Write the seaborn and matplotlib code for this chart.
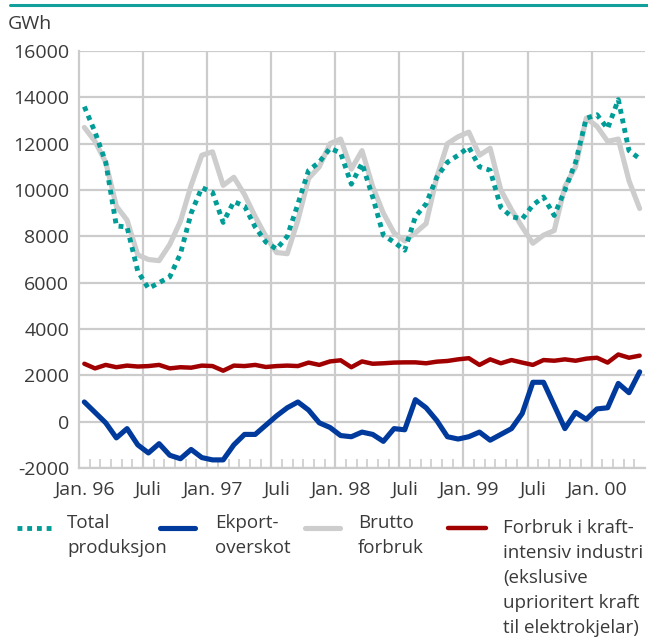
import numpy as np
import pandas as pd
import seaborn as sns
import matplotlib.pyplot as plt
from matplotlib.lines import Line2D

# Monthly values Jan. 1996 - May 2000, GWh
total_produksjon = [13600, 12500, 11200, 8450, 8400, 6500, 5750, 6000, 6250, 7250,
                    9000, 10100, 9900, 8600, 9500, 9300, 8400, 7750, 7450, 8000,
                    9400, 10850, 11200, 11800, 11600, 10250, 11150, 9700, 8050, 7750,
                    7400, 8850, 9400, 10550, 11200, 11500, 11850, 11000, 10850, 9250,
                    8850, 8750, 9350, 9700, 8900, 10000, 11200, 13100, 13250, 12650,
                    13900, 11700, 11350]
brutto_forbruk = [12700, 12100, 11200, 9300, 8700, 7200, 7000, 6950, 7650, 8650,
                  10200, 11500, 11650, 10200, 10550, 9800, 8850, 8000, 7300, 7250,
                  8700, 10500, 11000, 12000, 12200, 10900, 11700, 10150, 9000, 8150,
                  7800, 8150, 8550, 10550, 12000, 12300, 12500, 11500, 11800, 10000,
                  9150, 8400, 7700, 8050, 8250, 10150, 11000, 13100, 12750, 12100,
                  12200, 10400, 9200]
eksport_overskot = [850, 400, -50, -700, -300, -1000, -1350, -950, -1450, -1600,
                    -1200, -1550, -1650, -1650, -1000, -550, -550, -150, 250, 600,
                    850, 500, -50, -250, -600, -650, -450, -550, -850, -300,
                    -350, 950, 600, 50, -650, -750, -650, -450, -800, -550,
                    -300, 350, 1700, 1700, 700, -300, 400, 100, 550, 600,
                    1650, 1250, 2150]
kraftintensiv = [2500, 2300, 2450, 2350, 2420, 2380, 2400, 2450, 2300, 2350,
                 2330, 2420, 2400, 2200, 2420, 2400, 2450, 2360, 2400, 2420,
                 2400, 2550, 2450, 2600, 2650, 2350, 2600, 2500, 2520, 2550,
                 2560, 2560, 2520, 2590, 2620, 2690, 2740, 2450, 2690, 2520,
                 2660, 2550, 2450, 2660, 2630, 2690, 2630, 2720, 2760, 2550,
                 2900, 2760, 2850]

x_labels = ["Jan. 96", "Juli", "Jan. 97", "Juli", "Jan. 98", "Juli",
            "Jan. 99", "Juli", "Jan. 00"]
y_ticks = list(range(-2000, 16001, 2000))
legend_labels = ["Total\nproduksjon", "Ekport-\noverskot", "Brutto\nforbruk",
                 "Forbruk i kraft-\nintensiv industri\n(ekslusive\n"
                 "uprioritert kraft\ntil elektrokjelar)"]

TEAL = "#009c98"
BLUE = "#003a9c"
GREY = "#cdcdcd"
RED = "#a00000"
GRID = "#cccccc"
TEXT = "#3a3a3a"

df = pd.DataFrame({
    "total": total_produksjon,
    "brutto": brutto_forbruk,
    "eksport": eksport_overskot,
    "kraft": kraftintensiv,
})
df["month"] = np.arange(len(df))

sns.set_style("white")
plt.rcParams["font.family"] = ["Open Sans", "DejaVu Sans"]

W, H = 648, 641
fig = plt.figure(figsize=(W / 100, H / 100), dpi=100)
ax = fig.add_axes([79 / W, 1 - 468 / H, 566 / W, 417 / H])

# grid: horizontal every 2000, vertical at each half-year boundary
ax.set_ylim(-2000, 16000)
ax.set_xlim(-0.5, len(df) - 0.5)
ax.set_yticks(y_ticks)
ax.set_yticklabels([str(v) for v in y_ticks])
ax.grid(axis="y", color=GRID, lw=1.6)
for b in np.arange(5.5, len(df) - 1, 6):
    ax.axvline(b, color=GRID, lw=1.6, zorder=0.5)
ax.set_axisbelow(True)

# series
sns.lineplot(data=df, x="month", y="brutto", ax=ax, color=GREY, lw=3.7)
sns.lineplot(data=df, x="month", y="total", ax=ax, color=TEAL, lw=3.5,
             linestyle=(0, (1, 1)))
sns.lineplot(data=df, x="month", y="eksport", ax=ax, color=BLUE, lw=3.7)
sns.lineplot(data=df, x="month", y="kraft", ax=ax, color=RED, lw=3.2)

# axes cosmetics
ax.set_xticks(np.arange(0, len(df), 6))
ax.set_xticklabels(x_labels)
ax.set_xticks(np.arange(0.5, len(df) - 1, 1), minor=True)
ax.tick_params(axis="x", which="major", length=0, pad=9, labelsize=14,
               labelcolor=TEXT)
ax.tick_params(axis="x", which="minor", direction="in", length=6.5,
               width=1.2, color=GRID, bottom=True)
ax.tick_params(axis="y", length=0, pad=7, labelsize=14, labelcolor=TEXT)
ax.set_xlabel("")
ax.set_ylabel("")
for side in ["top", "right"]:
    ax.spines[side].set_visible(False)
for side in ["left", "bottom"]:
    ax.spines[side].set_color(GRID)
    ax.spines[side].set_linewidth(1.6)

# header rule and unit
fig.add_artist(Line2D([10 / W, 1], [1 - 5 / H] * 2, color="#12a09c", lw=2.2))
fig.text(8 / W, 1 - 29 / H, "GWh", fontsize=14, color=TEXT, va="baseline")

# legend, laid out by hand like the original
styles = [dict(color=TEAL, lw=3.5, linestyle=(0, (1, 1))),
          dict(color=BLUE, lw=3.7),
          dict(color=GREY, lw=3.7),
          dict(color=RED, lw=3.2, solid_capstyle="round")]
handle_x = [(17, 53), (160, 195), (305, 340), (448, 486)]
text_x = [67, 215, 358, 503]
text_top = [514, 514, 514, 519]
for (x0, x1), tx, ty, lab, st in zip(handle_x, text_x, text_top, legend_labels, styles):
    fig.add_artist(Line2D([x0 / W, x1 / W], [1 - 528 / H] * 2, **st))
    fig.text(tx / W, 1 - ty / H, lab, fontsize=13.5, color=TEXT, va="top",
             linespacing=1.5)

fig.savefig("out.png", dpi=100)
